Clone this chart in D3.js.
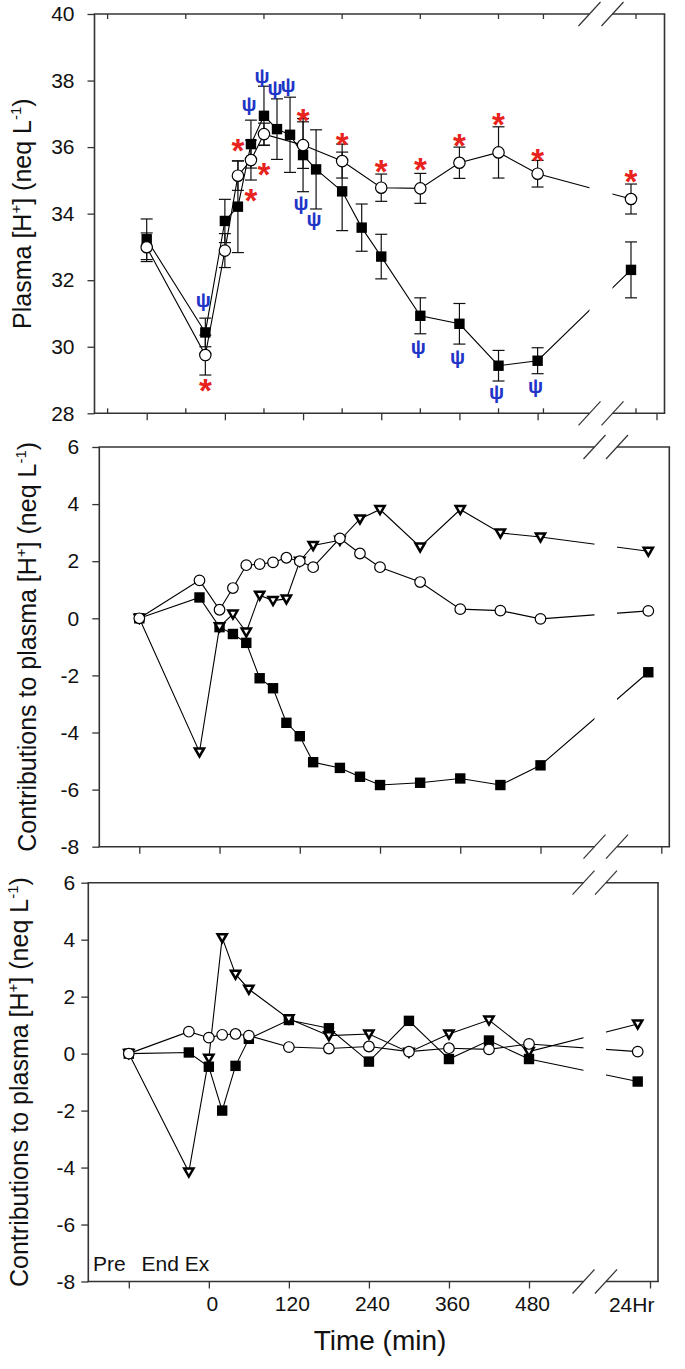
<!DOCTYPE html>
<html><head><meta charset="utf-8">
<script src="https://cdn.jsdelivr.net/npm/d3@7"></script>
<style>
body{margin:0;background:#fff}
svg{display:block}
text{font-family:"Liberation Sans",Arial,Helvetica,sans-serif}
</style>
</head><body>
<svg id="c" width="685" height="1369"></svg>
<script>
// ---------------- DATA ----------------
// time points (min); -120 = "Pre", -30 = "End Ex", 1440 = "24Hr"
const timesAll   = [-120, -30, 0, 20, 40, 60, 80, 100, 120, 140, 180, 210, 240, 300, 360, 420, 480, 1440];
const timesShort = [-120, -30, 0, 20, 40, 60, 120, 180, 240, 300, 360, 420, 480, 1440];

// Panel A: plasma [H+]
const plasmaSquare    = [33.23, 30.43, 33.78, 34.21, 36.09, 36.94, 36.54, 36.37, 35.76, 35.33, 34.67, 33.58, 32.71, 30.93, 30.69, 29.43, 29.58, 32.31];
const plasmaSquareErr = [0.61, 0.43, 0.65, 1.38, 0.72, 0.89, 0.91, 1.13, 1.10, 1.19, 1.18, 0.71, 0.67, 0.54, 0.61, 0.46, 0.39, 0.84];
const plasmaCircle    = [32.99, 29.75, 32.89, 35.14, 35.61, 36.39, 36.06, 35.58, 34.78, 34.76, 35.53, 35.84, 35.20, 34.44];
const plasmaCircleErr = [0.43, 0.60, 0.51, 0.44, 0.60, 0.33, 0.70, 0.51, 0.41, 0.45, 0.47, 0.77, 0.40, 0.45];

// significance markers (time, value level)
const starTimes = [-30, 20, 40, 60, 120, 180, 240, 300, 360, 420, 480, 1440];
const starLevel = [28.91, 36.13, 34.61, 35.39, 37.02, 36.31, 35.48, 35.54, 36.27, 36.91, 35.83, 35.19];
const psiTimes  = [-30, 40, 60, 80, 100, 120, 140, 300, 360, 420, 480];
const psiLevel  = [31.36, 37.27, 38.12, 37.74, 37.84, 34.29, 33.81, 29.95, 29.65, 28.62, 28.80];

// Panel B: contributions (all time points)
const contribBCircle   = [0, 1.33, 0.30, 1.06, 1.86, 1.90, 1.96, 2.12, 2.00, 1.79, 2.80, 2.27, 1.79, 1.27, 0.32, 0.27, -0.02, 0.26];
const contribBTriangle = [0, -4.68, -0.30, 0.15, -0.48, 0.81, 0.62, 0.68, 2.00, 2.55, 2.73, 3.48, 3.81, 2.50, 3.81, 2.99, 2.85, 2.35];
const contribBSquare   = [0, 0.73, -0.31, -0.55, -0.86, -2.10, -2.45, -3.66, -4.13, -5.04, -5.24, -5.55, -5.84, -5.76, -5.61, -5.84, -5.15, -1.89];

// Panel C: contributions (short time set)
const contribCCircle   = [0, 0.77, 0.56, 0.66, 0.69, 0.63, 0.23, 0.18, 0.25, 0.07, 0.19, 0.15, 0.34, 0.07];
const contribCTriangle = [0, -4.16, -0.16, 4.07, 2.79, 2.26, 1.22, 0.63, 0.69, 0.05, 0.69, 1.18, 0.07, 1.04];
const contribCSquare   = [0, 0.04, -0.46, -2.00, -0.43, 0.52, 1.18, 0.89, -0.28, 1.15, -0.19, 0.46, -0.19, -0.98];

const xTickValues = [-120, 0, 120, 240, 360, 480];
const xMinorValues = [-180, -60, 60, 180, 300, 420, 540];
const yTicksA = [28, 30, 32, 34, 36, 38, 40];
const yTicksBC = [-8, -6, -4, -2, 0, 2, 4, 6];
const eventLabels = ["Pre", "End Ex"];
const lastTickLabel = "24Hr";

// ---------------- DRAWING ----------------
const svg = d3.select('#c');
const defs = svg.append('defs');
const AX = '#333';
const RED = '#e8221c';
const BLUE = '#1f35c8';

function pair(xs, ys, es) { return xs.map((t, i) => ({t, v: ys[i], e: es ? es[i] : 0})); }

function panel(cfg) {
  const x = d3.scaleLinear().domain([-120, 480, 1440]).range([cfg.xPre, cfg.x480, cfg.x24]);
  const y = d3.scaleLinear().domain(cfg.yDomain).range([cfg.B, cfg.T]);
  const g = svg.append('g');

  // clip for lines (gap at axis break)
  const cid = 'clip' + cfg.name;
  const cp = defs.append('clipPath').attr('id', cid);
  cp.append('rect').attr('x', cfg.L).attr('y', cfg.T - 30).attr('width', cfg.breakA - cfg.L).attr('height', cfg.B - cfg.T + 60);
  cp.append('rect').attr('x', cfg.breakB).attr('y', cfg.T - 30).attr('width', cfg.R - cfg.breakB).attr('height', cfg.B - cfg.T + 60);

  // y axis
  const ya = g.append('g').attr('transform', `translate(${cfg.L},0)`)
    .call(d3.axisLeft(y).tickValues(cfg.yTicks).tickSize(7).tickPadding(cfg.yPad).tickFormat(d => String(d)));
  ya.select('.domain').remove();
  ya.selectAll('line').attr('stroke', AX).attr('stroke-width', 1.3);
  ya.selectAll('text').attr('font-size', 21).attr('fill', '#111')
    .attr('font-family', '"Liberation Sans",Arial,sans-serif');

  // x axis
  const xa = g.append('g').attr('transform', `translate(0,${cfg.B})`)
    .call(d3.axisBottom(x).tickValues(xTickValues).tickSize(7).tickPadding(8)
      .tickFormat(d => cfg.xLabels ? (d === -120 ? '' : String(d)) : ''));
  xa.select('.domain').remove();
  xa.selectAll('line').attr('stroke', AX).attr('stroke-width', 1.3);
  xa.selectAll('text').attr('font-size', 21).attr('fill', '#111')
    .attr('font-family', '"Liberation Sans",Arial,sans-serif').attr('dx', 3);
  // last (24 h) tick
  const lastX = cfg.R - 7.5;
  g.append('line').attr('x1', lastX).attr('x2', lastX).attr('y1', cfg.B).attr('y2', cfg.B + 7)
    .attr('stroke', AX).attr('stroke-width', 1.3);
  if (cfg.xLabels) {
    g.append('text').attr('x', x(1440) - 6).attr('y', cfg.B + 30).attr('text-anchor', 'middle')
      .attr('font-size', 21).attr('fill', '#111').text(lastTickLabel);
  }
  // inner minor ticks (panel A)
  if (cfg.minor) {
    const mx = xMinorValues.map(x).concat([cfg.R - 28.5]);
    mx.forEach(px => {
      g.append('line').attr('x1', px).attr('x2', px).attr('y1', cfg.B).attr('y2', cfg.B - 5).attr('stroke', AX).attr('stroke-width', 1.3);
      g.append('line').attr('x1', px).attr('x2', px).attr('y1', cfg.T).attr('y2', cfg.T + 5).attr('stroke', AX).attr('stroke-width', 1.3);
    });
  }

  // frame with break
  const fw = 1.6;
  g.append('line').attr('x1', cfg.L).attr('x2', cfg.L).attr('y1', cfg.T).attr('y2', cfg.B).attr('stroke', AX).attr('stroke-width', fw);
  g.append('line').attr('x1', cfg.R).attr('x2', cfg.R).attr('y1', cfg.T).attr('y2', cfg.B).attr('stroke', AX).attr('stroke-width', fw);
  [cfg.T, cfg.B].forEach(yy => {
    g.append('line').attr('x1', cfg.L - fw/2).attr('x2', cfg.breakA).attr('y1', yy).attr('y2', yy).attr('stroke', AX).attr('stroke-width', fw);
    g.append('line').attr('x1', cfg.breakB).attr('x2', cfg.R + fw/2).attr('y1', yy).attr('y2', yy).attr('stroke', AX).attr('stroke-width', fw);
    [cfg.breakA, cfg.breakB].forEach(bx => {
      g.append('line').attr('x1', bx - 11).attr('y1', yy + 12).attr('x2', bx + 11).attr('y2', yy - 12)
        .attr('stroke', AX).attr('stroke-width', 1.2);
    });
  });

  // y label
  const lab = g.append('text').attr('transform', `translate(${cfg.labelX},${(cfg.T + cfg.B) / 2}) rotate(-90)`)
    .attr('text-anchor', 'middle').attr('font-size', 25).attr('fill', '#111');
  lab.append('tspan').text(cfg.labelPre + '[H');
  lab.append('tspan').attr('font-size', 15).attr('dy', -10).text('+');
  lab.append('tspan').attr('dy', 10).text('] (neq L');
  lab.append('tspan').attr('font-size', 15).attr('dy', -10).text('-1');
  lab.append('tspan').attr('dy', 10).text(')');

  const line = d3.line().x(d => x(d.t)).y(d => y(d.v));
  const lines = g.append('g').attr('clip-path', `url(#${cid})`);
  const marks = g.append('g');

  cfg.series.forEach(s => {
    lines.append('path').datum(s.data).attr('d', line).attr('fill', 'none').attr('stroke', '#000').attr('stroke-width', 1.1);
  });
  cfg.series.forEach(s => {
    if (s.err) {
      s.data.forEach(d => {
        const px = x(d.t), y1 = y(d.v + d.e), y2 = y(d.v - d.e);
        marks.append('line').attr('x1', px).attr('x2', px).attr('y1', y1).attr('y2', y2).attr('stroke', '#111').attr('stroke-width', 1.2);
        [y1, y2].forEach(yy => marks.append('line').attr('x1', px - 6).attr('x2', px + 6).attr('y1', yy).attr('y2', yy).attr('stroke', '#111').attr('stroke-width', 1.2));
      });
    }
  });
  cfg.series.forEach(s => {
    s.data.forEach(d => {
      const px = x(d.t), py = y(d.v);
      if (s.shape === 'square') {
        marks.append('rect').attr('x', px - 5.2).attr('y', py - 5.2).attr('width', 10.4).attr('height', 10.4).attr('fill', '#000');
      } else if (s.shape === 'circle') {
        marks.append('circle').attr('cx', px).attr('cy', py).attr('r', s.r || 5.3).attr('fill', '#fff').attr('stroke', '#000').attr('stroke-width', 1.2);
      } else {
        marks.append('path').attr('d', `M${px - 4.6},${py - 3.5}L${px + 4.6},${py - 3.5}L${px},${py + 4.5}Z`)
          .attr('fill', '#fff').attr('stroke', '#000').attr('stroke-width', 2.5).attr('stroke-linejoin', 'miter');
      }
    });
  });
  return {x, y, g};
}

// Panel A
const A = panel({
  name: 'A', L: 94.5, R: 664.5, T: 14, B: 413.3,
  xPre: 146.7, x480: 537.6, x24: 631, breakA: 589.5, breakB: 612.5,
  yDomain: [28, 40], yTicks: yTicksA, yPad: 13, xLabels: false, minor: true,
  labelX: 31, labelPre: 'Plasma ',
  series: [
    {shape: 'square', err: true, data: pair(timesAll, plasmaSquare, plasmaSquareErr)},
    {shape: 'circle', err: true, r: 5.7, data: pair(timesShort, plasmaCircle, plasmaCircleErr)}
  ]
});
// significance symbols
starTimes.forEach((t, i) => {
  A.g.append('text').attr('x', A.x(t)).attr('y', A.y(starLevel[i]) + 19).attr('text-anchor', 'middle')
    .attr('font-size', 33).attr('font-weight', 'bold').attr('fill', RED).text('*');
});
psiTimes.forEach((t, i) => {
  A.g.append('text').attr('x', A.x(t) - 2).attr('y', A.y(psiLevel[i]) + 6).attr('text-anchor', 'middle')
    .attr('font-size', 20).attr('font-weight', 'bold').attr('fill', BLUE).text('ψ');
});

// Panel B
panel({
  name: 'B', L: 99.3, R: 669.3, T: 447, B: 846.7,
  xPre: 139.3, x480: 540.5, x24: 648.3, breakA: 594.5, breakB: 617,
  yDomain: [-8, 6], yTicks: yTicksBC, yPad: 13, xLabels: false, minor: false,
  labelX: 36, labelPre: 'Contributions to plasma ',
  series: [
    {shape: 'square', data: pair(timesAll, contribBSquare)},
    {shape: 'triangle', data: pair(timesAll, contribBTriangle)},
    {shape: 'circle', data: pair(timesAll, contribBCircle)}
  ]
});

// Panel C
const C = panel({
  name: 'C', L: 88.3, R: 658, T: 882.7, B: 1281.5,
  xPre: 128.8, x480: 529, x24: 637.7, breakA: 583.5, breakB: 606,
  yDomain: [-8, 6], yTicks: yTicksBC, yPad: 6, xLabels: true, minor: false,
  labelX: 28, labelPre: 'Contributions to plasma ',
  series: [
    {shape: 'square', data: pair(timesShort, contribCSquare)},
    {shape: 'triangle', data: pair(timesShort, contribCTriangle)},
    {shape: 'circle', data: pair(timesShort, contribCCircle)}
  ]
});
C.g.append('text').attr('x', 93).attr('y', 1271).attr('font-size', 21).attr('fill', '#111').text(eventLabels[0]);
C.g.append('text').attr('x', 141.5).attr('y', 1271).attr('font-size', 21).attr('fill', '#111').text(eventLabels[1]);
C.g.append('text').attr('x', 380).attr('y', 1350).attr('text-anchor', 'middle').attr('font-size', 28).attr('fill', '#111').text('Time (min)');
</script>
</body></html>
